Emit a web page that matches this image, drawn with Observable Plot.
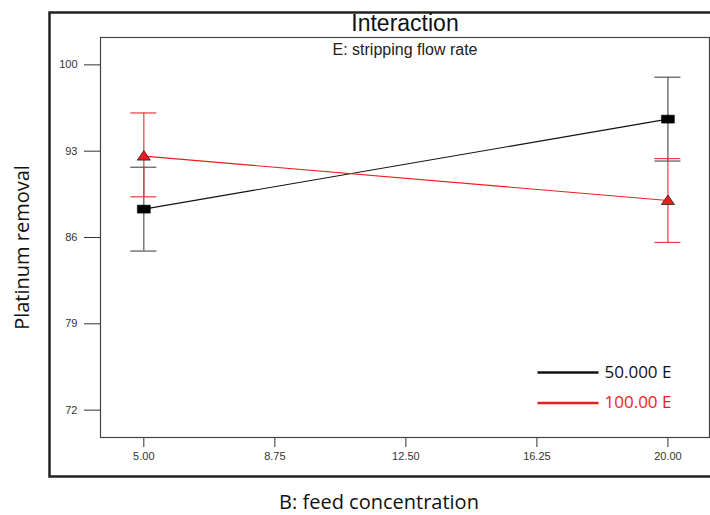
<!DOCTYPE html>
<html>
<head>
<meta charset="utf-8">
<script src="https://cdn.jsdelivr.net/npm/d3@7"></script>
<script src="https://cdn.jsdelivr.net/npm/@observablehq/plot@0.6"></script>
<style>
  html, body { margin: 0; padding: 0; background: #fff; }
  #chart { width: 710px; height: 515px; }
</style>
</head>
<body>
<div id="chart"></div>
<script>
// ---- data ----
const feedConc = [5, 20];
const seriesNames = ["50.000 E", "100.00 E"];
const seriesColors = ["#111111", "#ee1c1c"];
const barColors = ["#555555", "#f03a3a"];
const mean50 = [88.3, 95.6];
const low50 = [84.9, 92.2];
const high50 = [91.7, 99.0];
const mean100 = [92.6, 89.0];
const low100 = [89.3, 85.6];
const high100 = [96.1, 92.4];
const xTicks = [5, 8.75, 12.5, 16.25, 20];
const yTicks = [72, 79, 86, 93, 100];
const titleText = "Interaction";
const subtitleText = "E: stripping flow rate";
const xLabel = "B: feed concentration";
const yLabel = "Platinum removal";

// ---- table ----
const rows = [];
feedConc.forEach((f, i) => {
  rows.push({series: seriesNames[0], feed: f, mean: mean50[i], low: low50[i], high: high50[i]});
  rows.push({series: seriesNames[1], feed: f, mean: mean100[i], low: low100[i], high: high100[i]});
});

const squareSym = {draw(ctx) { ctx.rect(-6.5, -4, 13, 8); }};
const triSym = {draw(ctx) { ctx.moveTo(0, -5.5); ctx.lineTo(6.5, 4); ctx.lineTo(-6.5, 4); ctx.closePath(); }};
const lineSym = {draw(ctx) { ctx.moveTo(-30.5, 0); ctx.lineTo(30.5, 0); }};

const colorOf = s => seriesColors[seriesNames.indexOf(s)];
const barOf = s => barColors[seriesNames.indexOf(s)];
const uiFont = "'Open Sans', Lato, sans-serif";

const legendMarks = seriesNames.flatMap((name, i) => [
  Plot.dot([name], {frameAnchor: "bottom-right", symbol: lineSym, stroke: seriesColors[i], strokeWidth: 2.4, fill: "none", dx: -141.5, dy: -65 + 30.5 * i}),
  Plot.text([name], {text: d => d, frameAnchor: "bottom-right", textAnchor: "start", lineAnchor: "middle", dx: -105, dy: -65 + 30.5 * i, fontSize: 17, fontFamily: uiFont, fill: i === 0 ? "#111" : "#ee1c1c"})
]);

const chart = Plot.plot({
  width: 710,
  height: 515,
  marginLeft: 100,
  marginRight: 1,
  marginTop: 37,
  marginBottom: 78,
  style: {fontFamily: "'Liberation Sans', Arial, sans-serif", fontSize: "11px", color: "#333", background: "#fff"},
  x: {domain: [3.76, 21.19], ticks: xTicks, tickFormat: d3.format(".2f"), tickSize: 10, tickPadding: 5, label: null},
  y: {domain: [69.78, 102.22], ticks: yTicks, tickFormat: d => String(d), tickSize: 16, tickPadding: 7, label: null},
  marks: [
    Plot.frame({stroke: "#444", strokeWidth: 1.2}),
    Plot.frame({stroke: "#222", strokeWidth: 2.5, insetLeft: -51, insetTop: -25, insetBottom: -39, insetRight: -20}),
    // connecting lines
    Plot.line(rows, {x: "feed", y: "mean", z: "series", stroke: d => colorOf(d.series), strokeWidth: 1.1}),
    // error bars
    Plot.ruleX(rows, {x: "feed", y1: "low", y2: "high", stroke: d => barOf(d.series), strokeWidth: 1.2}),
    Plot.ruleY(rows, {x1: "feed", x2: "feed", y: "low", stroke: d => barOf(d.series), strokeWidth: 1.2, insetLeft: -13, insetRight: -13}),
    Plot.ruleY(rows, {x1: "feed", x2: "feed", y: "high", stroke: d => barOf(d.series), strokeWidth: 1.2, insetLeft: -13, insetRight: -13}),
    // markers
    Plot.dot(rows.filter(d => d.series === seriesNames[0]), {x: "feed", y: "mean", symbol: squareSym, fill: "#000", stroke: "#000", strokeWidth: 0.5}),
    Plot.dot(rows.filter(d => d.series === seriesNames[1]), {x: "feed", y: "mean", symbol: triSym, fill: "#ee1c1c", stroke: "#222", strokeWidth: 0.8}),
    // title, subtitle
    Plot.text([titleText], {text: d => d, frameAnchor: "top", dy: -14, lineAnchor: "middle", fontSize: 23, fill: "#111"}),
    Plot.text([subtitleText], {text: d => d, frameAnchor: "top", dy: 12, lineAnchor: "middle", fontSize: 16, fill: "#222"}),
    // axis labels
    Plot.text([yLabel], {text: d => d, frameAnchor: "left", textAnchor: "middle", dx: -78, dy: 10, rotate: -90, lineAnchor: "middle", fontSize: 20, fontFamily: uiFont, fill: "#111"}),
    Plot.text([xLabel], {text: d => d, frameAnchor: "bottom", textAnchor: "middle", dx: -26, dy: 65, lineAnchor: "middle", fontSize: 20, fontFamily: uiFont, fill: "#111"}),
    ...legendMarks
  ]
});
document.getElementById("chart").appendChild(chart);
</script>
</body>
</html>
